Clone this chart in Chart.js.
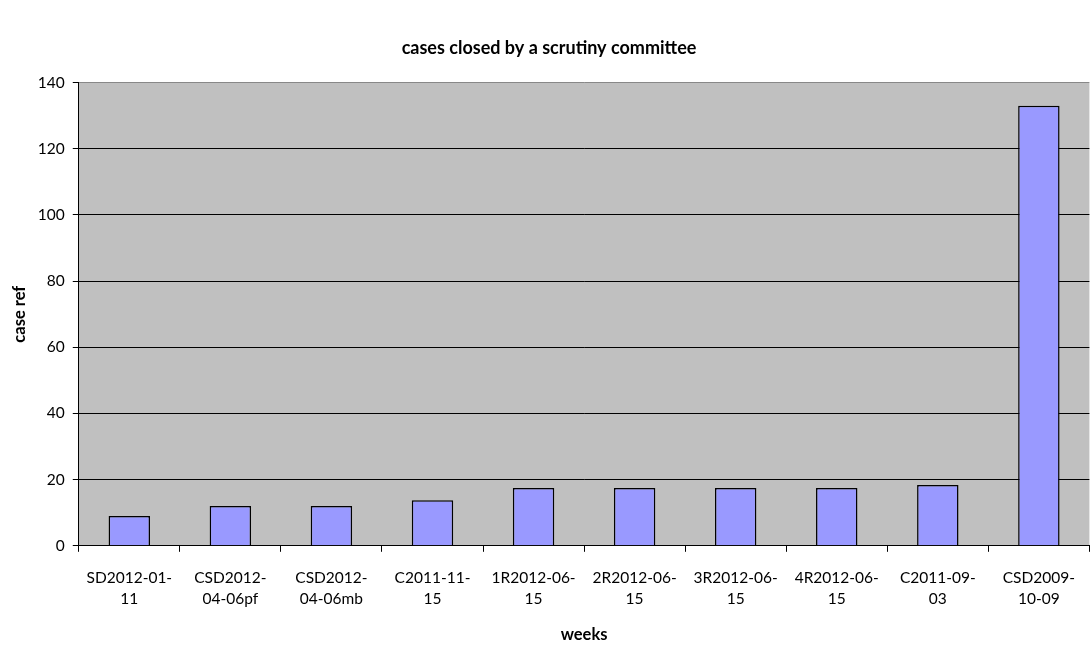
<!doctype html>
<html lang="en">
<head>
  <meta charset="utf-8">
  <script src="https://cdn.jsdelivr.net/npm/chart.js@4.4.0/dist/chart.umd.min.js"></script>
  <title>cases closed by a scrutiny committee</title>
  <style>
    body { margin: 0; background: #fff; }
  </style>
</head>
<body>
  <canvas id="myChart" width="1090" height="645"></canvas>
  <script>
    // categories (two lines each, wrapped like the original)
    const weeks = [
      ['SD2012-01-', '11'],
      ['CSD2012-', '04-06pf'],
      ['CSD2012-', '04-06mb'],
      ['C2011-11-', '15'],
      ['1R2012-06-', '15'],
      ['2R2012-06-', '15'],
      ['3R2012-06-', '15'],
      ['4R2012-06-', '15'],
      ['C2011-09-', '03'],
      ['CSD2009-', '10-09']
    ];
    const caseRef = [9, 12, 12, 13.8, 17.5, 17.5, 17.5, 17.5, 18.4, 133];
    const yTicks = [0, 20, 40, 60, 80, 100, 120, 140];

    const font = "Lato, 'Liberation Sans', sans-serif";

    // grey plot area like the old excel charts
    const plotBg = {
      id: 'plotBg',
      beforeDraw(chart) {
        const a = chart.chartArea;
        const ctx = chart.ctx;
        ctx.save();
        ctx.fillStyle = '#c0c0c0';
        ctx.fillRect(a.left, a.top, a.right - a.left, a.bottom - a.top);
        ctx.restore();
      }
    };

    const ctx = document.getElementById('myChart').getContext('2d');
    const chart = new Chart(ctx, {
      type: 'bar',
      data: {
        labels: weeks,
        datasets: [{
          label: 'case ref',
          data: caseRef,
          backgroundColor: '#9999ff',
          borderColor: '#000',
          borderWidth: 1.5,
          barPercentage: 0.41,
          categoryPercentage: 1
        }]
      },
      options: {
        responsive: false,
        animation: false,
        layout: { padding: { top: 0, right: 0, left: 8, bottom: 0 } },
        plugins: {
          legend: { display: false },
          tooltip: { enabled: false },
          title: {
            display: true,
            text: 'cases closed by a scrutiny committee',
            color: '#000',
            font: { family: font, size: 18, weight: 'bold' },
            padding: { top: 37, bottom: 24 }
          }
        },
        scales: {
          x: {
            grid: {
              drawOnChartArea: false,
              drawTicks: true,
              tickLength: 6,
              color: '#000'
            },
            border: { color: '#000', width: 1 },
            ticks: {
              color: '#000',
              maxRotation: 0,
              autoSkip: false,
              padding: 15,
              font: { family: font, size: 15.5, lineHeight: 1.4 }
            },
            title: {
              display: true,
              text: 'weeks',
              color: '#000',
              font: { family: font, size: 16.5, weight: 'bold' },
              padding: { top: 0, bottom: 0 }
            }
          },
          y: {
            min: 0,
            max: 140,
            afterBuildTicks(axis) {
              axis.ticks = yTicks.map(v => ({ value: v }));
            },
            grid: {
              color: c => (c.tick && c.tick.value === 140 ? '#888' : '#000'),
              tickColor: '#000',
              tickLength: 6
            },
            border: { color: '#000', width: 1 },
            ticks: {
              color: '#000',
              padding: 8,
              font: { family: font, size: 15.5 }
            },
            title: {
              display: true,
              text: 'case ref',
              color: '#000',
              font: { family: font, size: 16.5, weight: 'bold' },
              padding: { top: 2, bottom: 0 }
            }
          }
        }
      },
      plugins: [plotBg]
    });
  </script>
</body>
</html>
